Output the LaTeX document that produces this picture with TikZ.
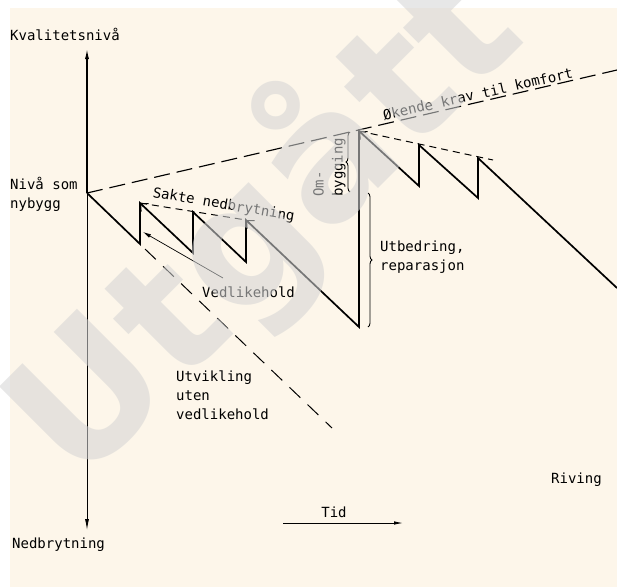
\documentclass[tikz,border=0pt]{standalone}
\usepackage{fontspec}
\setmonofont{DejaVu Sans Mono}
\newfontfamily\wmfont{DejaVu Sans}
\usetikzlibrary{arrows.meta,calc,decorations.pathreplacing}
\definecolor{paper}{RGB}{253,246,234}
\definecolor{wmgray}{RGB}{212,212,212}
\tikzset{
	lbl/.style={font=\ttfamily\fontsize{14}{19}\selectfont, inner sep=0pt},
	wear/.style={line width=0.6mm, line join=miter},
	trend/.style={line width=0.4mm, dash pattern=on 16pt off 7pt},
	slow/.style={line width=0.35mm, dash pattern=on 7pt off 5pt},
	bracket/.style={decorate, decoration={brace, amplitude=4pt}, line width=0.3mm},
}

\begin{document}
\begin{tikzpicture}[x=1pt, y=-1pt]
			%%%%% START %%%%%
			\useasboundingbox (0, 0) rectangle (617, 587);
			\fill[paper] (10, 8) rectangle (617, 587);
			
			\coordinate (o) at (87, 193);
			\coordinate (ytop) at (87, 48);
			\coordinate (ybot) at (87, 530);
			\coordinate (v1) at (140, 244);
			\coordinate (a1) at (140, 203);
			\coordinate (v2) at (193, 253);
			\coordinate (a2) at (193, 212);
			\coordinate (v3) at (246, 262);
			\coordinate (a3) at (246, 220);
			\coordinate (v4) at (359, 327);
			\coordinate (a4) at (359, 131);
			\coordinate (v5) at (419, 186);
			\coordinate (a5) at (419, 145);
			\coordinate (v6) at (478, 198);
			\coordinate (a6) at (478, 158);
			\coordinate (slut) at (617, 288);
			\coordinate (komf) at (617, 70);
			\coordinate (slow2) at (493, 160);
			\coordinate (uten0) at (145, 249);
			\coordinate (uten1) at (332, 428);
			
			% akser
			\draw[line width=0.5mm, -{Latex[length=11pt, width=4pt]}] (o) -- (ytop);
			\draw[line width=0.3mm, -{Latex[length=11pt, width=4pt]}] (o) -- (ybot);
			\node[lbl, anchor=base west] (kval) at (10, 40) {Kvalitetsnivå};
			\node[lbl, anchor=base west] (ned) at (12, 548) {Nedbrytning};
			\node[lbl, anchor=north west, align=left] (niva) at (10, 177) {Nivå som\\nybygg};
			
			% forløp
			\draw[wear] (o) -- (v1) -- (a1) -- (v2) -- (a2) -- (v3) -- (a3) -- (v4) -- (a4) -- (v5) -- (a5) -- (v6) -- (a6) -- (slut);
			\foreach \p/\q in {a1/v2, a3/v4, a4/v5}
				\draw[line width=0.35mm, {Straight Barb[length=6pt, width=11pt]}-] (\p) -- ($(\p)!9pt!(\q)$);
			
			% trender
			\draw[trend] (o) -- (komf);
			\draw[slow] (a1) -- (a3);
			\draw[slow] (a4) -- (slow2);
			\draw[line width=0.35mm, dash pattern=on 15pt off 10pt] (uten0) -- (uten1);
			
			\node[lbl, anchor=base, rotate=12.7] (krav) at (479, 99) {Økende krav til komfort};
			\node[lbl, anchor=base, rotate=-9.5] (sakte) at (223, 209) {Sakte nedbrytning};
			
			% vedlikehold
			\coordinate (ved0) at (223, 278);
			\coordinate (ved1) at (143, 232);
			\draw[line width=0.25mm, -{Latex[length=8pt, width=4pt]}] (ved0) -- (ved1);
			\node[lbl, anchor=base west] (ved) at (202, 297) {Vedlikehold};
			\node[lbl, anchor=north west, align=left] (utv) at (176, 371) {Utvikling\\uten\\vedlikehold};
			
			% klammer
			\coordinate (om0) at (350, 192);
			\coordinate (om1) at (350, 132);
			\draw[bracket] (om0) -- (om1);
			\node[lbl, anchor=north west, rotate=90, align=left] (omb) at (313, 197) {Om-\\bygging};
			\coordinate (ut0) at (368, 193);
			\coordinate (ut1) at (368, 327);
			\draw[bracket] (ut0) -- (ut1);
			\node[lbl, anchor=north west, align=left] (utb) at (380, 241) {Utbedring,\\reparasjon};
			
			% tid
			\coordinate (t0) at (283, 523);
			\coordinate (t1) at (403, 523);
			\draw[line width=0.3mm, -{Latex[length=9pt, width=3.5pt]}] (t0) -- (t1);
			\node[lbl, anchor=base] (tid) at (334, 517) {Tid};
			\node[lbl, anchor=base west] (riv) at (551, 483) {Riving};
			
			% stempel
			\node[text=wmgray, text opacity=0.56, rotate=45, font=\wmfont\bfseries\fontsize{175}{175}\selectfont] (wm) at (262, 222) {Utgått};
			%%%%% END %%%%%
\end{tikzpicture}
\end{document}
